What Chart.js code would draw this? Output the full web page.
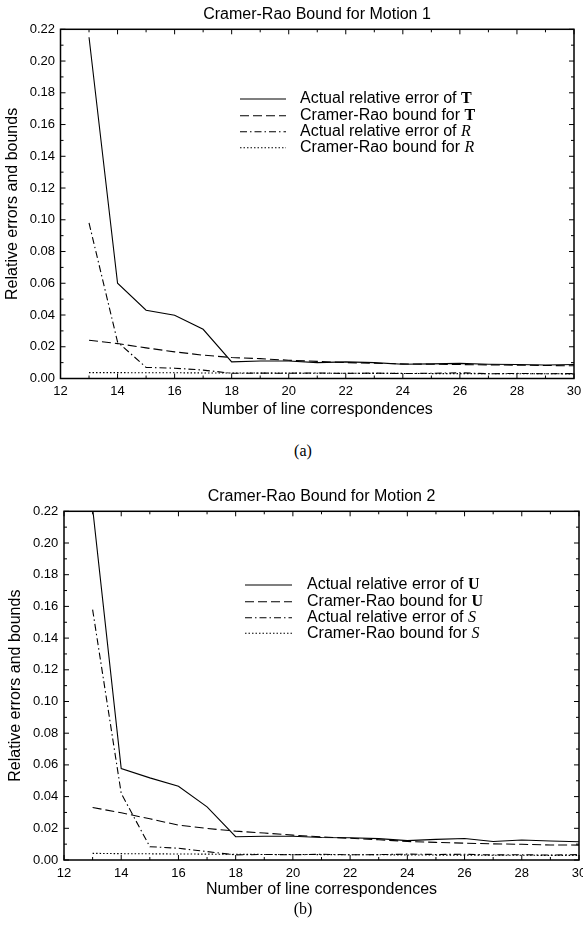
<!DOCTYPE html>
<html>
<head>
<meta charset="utf-8">
<script src="https://cdn.jsdelivr.net/npm/chart.js@4.4.1/dist/chart.umd.min.js"></script>
<style>
  body { margin: 0; background: #fff; width: 583px; height: 927px; overflow: hidden; position: relative; }
  canvas { position: absolute; left: 0; }
  .cap { position: absolute; width: 60px; text-align: center; font-family: "Liberation Serif", serif; font-size: 16px; line-height: 20px; color: #000; }
</style>
</head>
<body>
<canvas id="c1" width="634" height="430" style="top:0px"></canvas>
<canvas id="c2" width="643" height="420" style="top:482px"></canvas>
<div class="cap" style="left:273px; top:441px">(a)</div>
<div class="cap" style="left:273px; top:899px">(b)</div>
<script>
const xValues = [13, 14, 15, 16, 17, 18, 19, 20, 21, 22, 23, 24, 25, 26, 27, 28, 29, 30];
const xTicks = [12, 14, 16, 18, 20, 22, 24, 26, 28, 30];
const yTicks = [0, 0.02, 0.04, 0.06, 0.08, 0.10, 0.12, 0.14, 0.16, 0.18, 0.20, 0.22];

// Motion 1
const m1ErrT   = [0.215, 0.060, 0.043, 0.0398, 0.031, 0.0105, 0.011, 0.011, 0.010, 0.0105, 0.010, 0.009, 0.0092, 0.0095, 0.009, 0.0088, 0.0085, 0.0088];
const m1BoundT = [0.0241, 0.022, 0.0193, 0.0168, 0.0147, 0.0132, 0.0125, 0.0115, 0.0108, 0.0100, 0.0096, 0.0092, 0.0090, 0.0088, 0.0086, 0.0084, 0.0082, 0.0080];
const m1ErrR   = [0.098, 0.023, 0.007, 0.0065, 0.0053, 0.0033, 0.0034, 0.0033, 0.0035, 0.0032, 0.0034, 0.0031, 0.0033, 0.0036, 0.0030, 0.0032, 0.0030, 0.0031];
const m1BoundR = [0.0037, 0.0037, 0.0036, 0.0036, 0.0035, 0.0035, 0.0034, 0.0034, 0.0033, 0.0033, 0.0032, 0.0032, 0.0031, 0.0031, 0.0030, 0.0030, 0.0030, 0.0029];

// Motion 2
const m2ErrU   = [0.222, 0.0577, 0.0518, 0.0465, 0.0335, 0.0147, 0.015, 0.015, 0.0142, 0.014, 0.0135, 0.0122, 0.013, 0.0136, 0.0117, 0.0126, 0.012, 0.0115];
const m2BoundU = [0.0331, 0.0298, 0.026, 0.022, 0.0199, 0.0182, 0.017, 0.0157, 0.0146, 0.0137, 0.0128, 0.0117, 0.0111, 0.0106, 0.0102, 0.0099, 0.0095, 0.0094];
const m2ErrS   = [0.158, 0.042, 0.0084, 0.0074, 0.0053, 0.0032, 0.0035, 0.0033, 0.0036, 0.0033, 0.0034, 0.0037, 0.0035, 0.0036, 0.0032, 0.0033, 0.0031, 0.0034];
const m2BoundS = [0.0042, 0.0040, 0.0039, 0.0038, 0.0037, 0.0036, 0.0035, 0.0035, 0.0034, 0.0033, 0.0033, 0.0032, 0.0031, 0.0031, 0.0030, 0.0030, 0.0029, 0.0029];

const SANS = '"Liberation Sans", Arial, sans-serif';
Chart.defaults.font.family = SANS;
Chart.defaults.color = '#000';

const DASH = [9, 4];
const DASHDOT = [7, 3, 1.5, 3];
const DOT = [1.5, 2];

function pts(ys) {
  return xValues.map((x, i) => ({ x: x, y: ys[i] }));
}

function ds(label, sym, symStyle, ys, dash) {
  return {
    label: label + sym,
    legendText: label, legendSym: sym, legendSymStyle: symStyle,
    data: pts(ys),
    borderColor: '#000',
    borderWidth: 1.1,
    borderDash: dash,
    pointRadius: 0,
    tension: 0,
    fill: false
  };
}

// frame, inward ticks and the legend inside the plot
const framePlugin = {
  id: 'frame',
  afterDraw(chart, args, opts) {
    const { ctx, chartArea: a, scales } = chart;
    ctx.save();
    ctx.strokeStyle = '#000';
    ctx.lineWidth = 1.5;
    ctx.setLineDash([]);
    ctx.strokeRect(a.left, a.top, a.right - a.left, a.bottom - a.top);

    ctx.lineWidth = 1;
    ctx.beginPath();
    for (let v = 12; v <= 30; v++) {
      const x = scales.x.getPixelForValue(v);
      const len = v % 2 === 0 ? 5 : 3;
      ctx.moveTo(x, a.bottom); ctx.lineTo(x, a.bottom - len);
      ctx.moveTo(x, a.top); ctx.lineTo(x, a.top + len);
    }
    for (let i = 0; i <= 22; i++) {
      const y = scales.y.getPixelForValue(i / 100);
      const len = i % 2 === 0 ? 5 : 3;
      ctx.moveTo(a.left, y); ctx.lineTo(a.left + len, y);
      ctx.moveTo(a.right, y); ctx.lineTo(a.right - len, y);
    }
    ctx.stroke();

    // legend
    ctx.textBaseline = 'middle';
    chart.data.datasets.forEach((d, i) => {
      const y = opts.rows[i];
      ctx.beginPath();
      ctx.lineWidth = 1.1;
      ctx.setLineDash(d.borderDash || []);
      ctx.moveTo(opts.x0, y);
      ctx.lineTo(opts.x1, y);
      ctx.stroke();
      ctx.setLineDash([]);
      ctx.fillStyle = '#000';
      ctx.font = opts.size + 'px ' + SANS;
      ctx.fillText(d.legendText, opts.tx, y);
      const w = ctx.measureText(d.legendText).width;
      ctx.font = d.legendSymStyle + ' ' + opts.size + 'px "Liberation Serif", serif';
      ctx.fillText(d.legendSym, opts.tx + w, y);
    });
    ctx.restore();
  }
};

function makeChart(id, title, sets, geo) {
  return new Chart(document.getElementById(id), {
    type: 'line',
    data: { datasets: sets },
    plugins: [framePlugin],
    options: {
      responsive: false,
      animation: false,
      devicePixelRatio: 1,
      layout: { padding: 0 },
      plugins: {
        legend: { display: false },
        tooltip: { enabled: false },
        title: {
          display: true,
          text: title,
          color: '#000',
          font: { size: 16, weight: 'normal' },
          padding: { top: 5.4, bottom: 4.7 }
        },
        frame: geo.legend
      },
      scales: {
        x: {
          type: 'linear',
          min: 12, max: 30,
          afterBuildTicks: s => { s.ticks = xTicks.map(v => ({ value: v })); },
          afterFit: s => { s.height = geo.xHeight; },
          ticks: { font: { size: 13 }, color: '#000', padding: geo.xPad, maxRotation: 0 },
          grid: { drawOnChartArea: false, drawTicks: false },
          border: { display: false },
          title: {
            display: true,
            text: 'Number of line correspondences',
            color: '#000',
            font: { size: 16 },
            padding: { top: 0, bottom: geo.xTitlePad }
          }
        },
        y: {
          type: 'linear',
          position: 'left',
          min: 0, max: 0.22,
          afterBuildTicks: s => { s.ticks = yTicks.map(v => ({ value: v })); },
          afterFit: s => { s.width = geo.left; },
          ticks: { font: { size: 13 }, color: '#000', padding: geo.yPad, callback: v => v.toFixed(2) },
          grid: { drawOnChartArea: false, drawTicks: false },
          border: { display: false },
          title: {
            display: true,
            text: 'Relative errors and bounds',
            color: '#000',
            font: { size: 16 },
            padding: { top: geo.yTitlePad, bottom: 0 }
          }
        },
        y2: {
          type: 'linear',
          position: 'right',
          afterFit: s => { s.width = geo.rightPad; },
          ticks: { display: false },
          grid: { display: false },
          border: { display: false }
        }
      }
    }
  });
}

makeChart('c1', 'Cramer-Rao Bound for Motion 1', [
  ds('Actual relative error of ', 'T', 'bold', m1ErrT, []),
  ds('Cramer-Rao bound for ', 'T', 'bold', m1BoundT, DASH),
  ds('Actual relative error of ', 'R', 'italic', m1ErrR, DASHDOT),
  ds('Cramer-Rao bound for ', 'R', 'italic', m1BoundR, DOT)
], {
  left: 60.5, rightPad: 60, xHeight: 51.5, xPad: 5.4, xTitlePad: 10.4, yPad: 5.5, yTitlePad: 3,
  legend: { x0: 240, x1: 286, tx: 300, size: 16, rows: [99, 115.7, 131.7, 147.7] }
});

makeChart('c2', 'Cramer-Rao Bound for Motion 2', [
  ds('Actual relative error of ', 'U', 'bold', m2ErrU, []),
  ds('Cramer-Rao bound for ', 'U', 'bold', m2BoundU, DASH),
  ds('Actual relative error of ', 'S', 'italic', m2ErrS, DASHDOT),
  ds('Cramer-Rao bound for ', 'S', 'italic', m2BoundS, DOT)
], {
  left: 64, rightPad: 64, xHeight: 42, xPad: 5.2, xTitlePad: 2.4, yPad: 5.7, yTitlePad: 6,
  legend: { x0: 245, x1: 292, tx: 307, size: 16, rows: [103, 119.7, 135.7, 151.3] }
});
</script>
</body>
</html>
